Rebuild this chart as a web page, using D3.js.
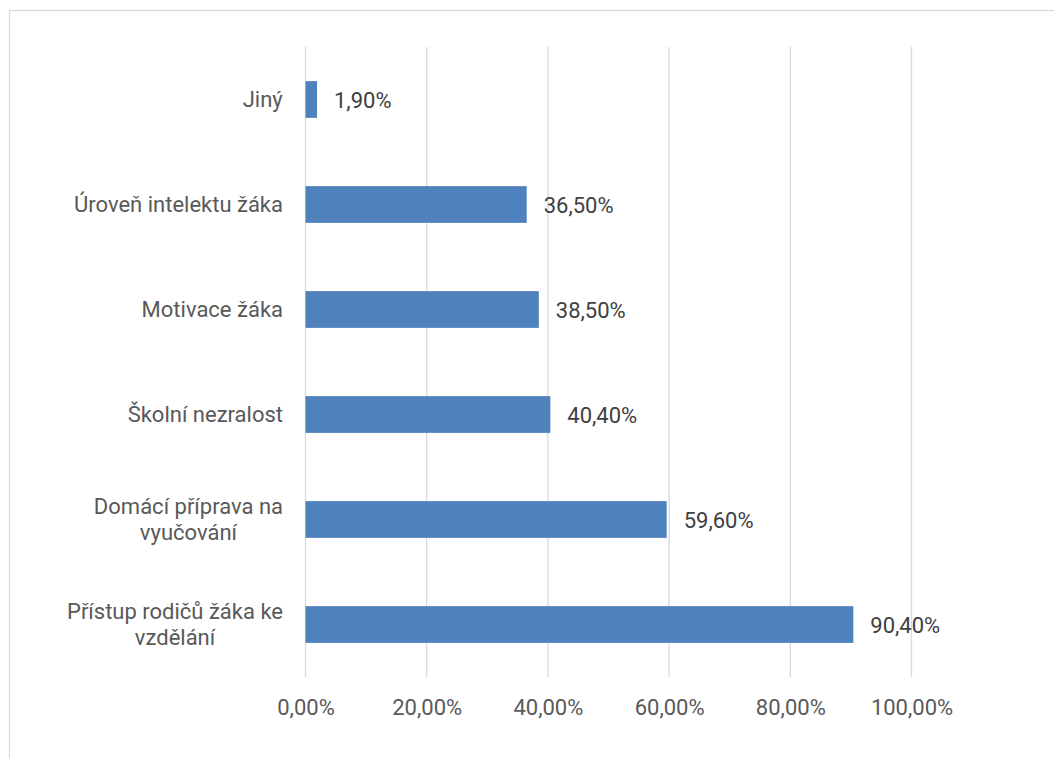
<!DOCTYPE html>
<html><head><meta charset="utf-8">
<script src="https://cdn.jsdelivr.net/npm/d3@7"></script>
<style>body{margin:0;background:#fff}svg{display:block}text{font-family:Roboto,sans-serif}</style>
</head><body><svg id="c" width="1054" height="758"></svg>
<script>
const categories = ["Jiný", "Úroveň intelektu žáka", "Motivace žáka", "Školní nezralost", "Domácí příprava na\nvyučování", "Přístup rodičů žáka ke\nvzdělání"];
const values = [1.9, 36.5, 38.5, 40.4, 59.6, 90.4];
const valueLabels = ["1,90%", "36,50%", "38,50%", "40,40%", "59,60%", "90,40%"];
const xTicks = [0, 20, 40, 60, 80, 100];
const xTickLabels = ["0,00%", "20,00%", "40,00%", "60,00%", "80,00%", "100,00%"];

(function () {
const svg = d3.select("#c");
const fs = 22, ff = "Roboto";
svg.append("rect").attr("x", 9.5).attr("y", 10.5).attr("width", 1100).attr("height", 800)
  .attr("fill", "#fff").attr("stroke", "#d9d9d9").attr("stroke-width", 1.2);

const pL = 305.5, pR = 911.5, pT = 47, pB = 677;
const x = d3.scaleLinear().domain([0, 100]).range([pL, pR]);
const y = d3.scaleBand().domain(categories).range([pT, pB]).paddingInner(0.65).paddingOuter(0.325);

// gridlines
svg.append("g").selectAll("line").data(xTicks).join("line")
  .attr("x1", d => x(d)).attr("x2", d => x(d)).attr("y1", pT).attr("y2", pB)
  .attr("stroke", "#d9d9d9").attr("stroke-width", 1.3);

// x axis labels
const xAxis = d3.axisBottom(x).tickValues(xTicks).tickSize(0).tickPadding(0)
  .tickFormat((d, i) => xTickLabels[i]);
const gx = svg.append("g").attr("transform", `translate(0,${pB + 22.5})`).call(xAxis);
gx.select(".domain").remove();
gx.selectAll("text").attr("font-family", ff).attr("font-size", fs).attr("fill", "#595959");

// bars
svg.append("g").selectAll("rect").data(values).join("rect")
  .attr("x", x(0)).attr("y", (d, i) => y(categories[i]))
  .attr("width", d => x(d) - x(0)).attr("height", y.bandwidth())
  .attr("fill", "#4f81bd");

// value labels
svg.append("g").selectAll("text").data(values).join("text")
  .attr("x", d => x(d) + 17).attr("y", (d, i) => y(categories[i]) + y.bandwidth() / 2 + 1)
  .attr("dy", "0.35em").attr("font-size", fs).attr("fill", "#404040")
  .text((d, i) => valueLabels[i]);

// category labels (centered multi-line, right aligned block)
const labelRight = 283, lh = 25.9;
const gy = svg.append("g");
categories.forEach((c, i) => {
  const lines = c.split("\n");
  const cy = y(c) + y.bandwidth() / 2;
  const t = gy.append("text").attr("font-size", fs).attr("fill", "#595959").attr("text-anchor", "middle");
  lines.forEach((ln, j) => {
    t.append("tspan").attr("x", 0).attr("y", cy + (j - (lines.length - 1) / 2) * lh).attr("dy", "0.35em").text(ln);
  });
  const w = t.node().getBBox().width;
  t.attr("transform", `translate(${labelRight - w / 2},0)`);
});
})();
</script></body></html>
